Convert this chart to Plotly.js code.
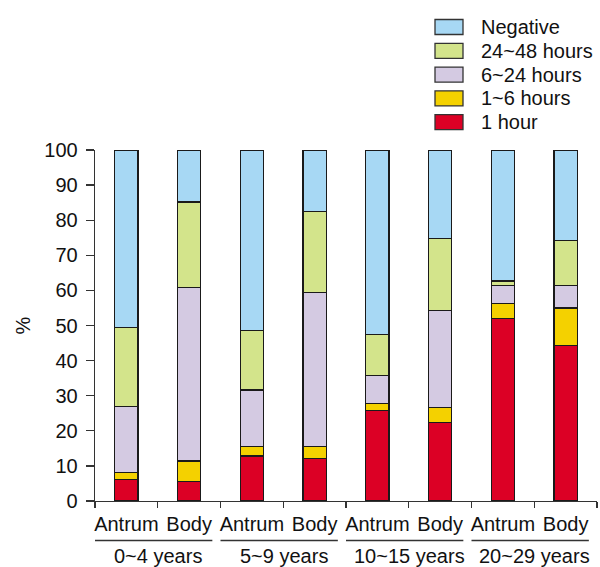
<!DOCTYPE html>
<html><head><meta charset="utf-8">
<script src="https://cdn.plot.ly/plotly-3.0.1.min.js"></script>
<style>html,body{margin:0;padding:0;background:#fff}#chart{width:600px;height:567px}</style>
</head><body><div id="chart"></div>
<script>
const sites = ["Antrum","Body","Antrum","Body","Antrum","Body","Antrum","Body"];
const groups = ["0~4 years","5~9 years","10~15 years","20~29 years"];
const oneHour   = [6.2, 5.5, 12.8, 12.1, 25.8, 22.3, 51.9, 44.4];
const oneToSix  = [1.9, 5.9, 2.8, 3.5, 2.0, 4.4, 4.3, 10.6];
const sixTo24   = [18.9, 49.5, 16.0, 43.7, 8.0, 27.6, 5.1, 6.3];
const h24to48   = [22.5, 24.3, 17.0, 23.2, 11.6, 20.4, 1.4, 12.9];
const negative  = [50.5, 14.8, 51.4, 17.5, 52.6, 25.3, 37.3, 25.8];

const seriesNames = ["1 hour","1~6 hours","6~24 hours","24~48 hours","Negative"];
const seriesVals = [oneHour, oneToSix, sixTo24, h24to48, negative];
const colors = ["#dc0025","#f4d100","#d4cae2","#d3e48b","#a7d8f4"];

const xs = sites.map((_, i) => i);
const FONT = "Arial, 'Liberation Sans', sans-serif";
const FS = 20;
const TXT = "#111";
const EDGE = "#1a1a1a";

const traces = seriesNames.map((n, k) => ({
  type: "bar", name: n, x: xs, y: seriesVals[k],
  marker: {color: colors[k], line: {color: EDGE, width: 1.2}},
  width: 0.37, xaxis: "x", yaxis: "y", showlegend: false
}));
traces.push({type:"scatter", x:[-0.5,7.5], y:[0,0], mode:"none", xaxis:"x2", yaxis:"y", showlegend:false, hoverinfo:"skip"});

const boundaries = [];
for (let i = 0; i <= sites.length; i++) boundaries.push(i - 0.5);

// pixel helpers for plot area (l=95, t=150, w=502, h=351)
const L = 95, T = 150, W = 502, H = 351;
const px2xp = p => (p - L) / W;
const px2yp = p => (T + H - p) / H;

const annotations = groups.map((g, j) => ({
  text: g, x: 2*j + 0.51, xref: "x", y: px2yp(555.5), yref: "paper",
  showarrow: false, font: {size: FS, color: TXT, family: FONT},
  xanchor: "center", yanchor: "middle"
}));

const shapes = groups.map((g, j) => ({
  type: "line", xref: "x", yref: "paper",
  x0: 2*j - 0.5, x1: 2*j + 1.37, y0: px2yp(540.5), y1: px2yp(540.5),
  line: {color: "#333", width: 1.3}
}));

// custom legend (top = Negative)
const legendOrder = [4, 3, 2, 1, 0];
legendOrder.forEach((k, r) => {
  const cy = 27 + r * 23.8;
  shapes.push({type: "rect", xref: "paper", yref: "paper",
    x0: px2xp(435), x1: px2xp(463), y0: px2yp(cy + 7.5), y1: px2yp(cy - 7.5),
    fillcolor: colors[k], line: {color: "#333", width: 1.3}});
  annotations.push({text: seriesNames[k], xref: "paper", yref: "paper",
    x: px2xp(479), y: px2yp(cy), xanchor: "left", yanchor: "middle",
    showarrow: false, font: {size: FS, color: TXT, family: FONT}});
});

const layout = {
  width: 600, height: 567,
  margin: {l: L, r: 600 - L - W, t: T, b: 567 - T - H},
  paper_bgcolor: "#fff", plot_bgcolor: "#fff",
  barmode: "stack",
  font: {family: FONT, size: FS, color: TXT},
  showlegend: false,
  xaxis: {range: [-0.5, 7.5], tickvals: xs, ticktext: sites, ticks: "",
          ticklabelstandoff: 9,
          showgrid: false, zeroline: false, showline: false,
          tickfont: {size: FS, family: FONT, color: TXT}},
  xaxis2: {overlaying: "x", matches: "x", side: "bottom", range: [-0.5, 7.5],
           tickvals: boundaries, showticklabels: false, ticks: "outside", ticklen: 6,
           tickcolor: "#333", tickwidth: 1.3, showline: true, linecolor: "#333", linewidth: 1.3,
           showgrid: false, zeroline: false, anchor: "y"},
  yaxis: {range: [0, 100], dtick: 10, ticks: "outside", ticklen: 8, tickcolor: "#333",
          tickwidth: 1.3, showline: true, linecolor: "#333", linewidth: 1.3,
          showgrid: false, zeroline: false, ticklabelstandoff: 4,
          tickfont: {size: FS, family: FONT, color: TXT},
          title: {text: "%", font: {size: FS, family: FONT, color: TXT}, standoff: 8}},
  annotations: annotations,
  shapes: shapes,
  bargap: 0.63
};
Plotly.newPlot("chart", traces, layout, {displayModeBar: false, staticPlot: true});
</script></body></html>
